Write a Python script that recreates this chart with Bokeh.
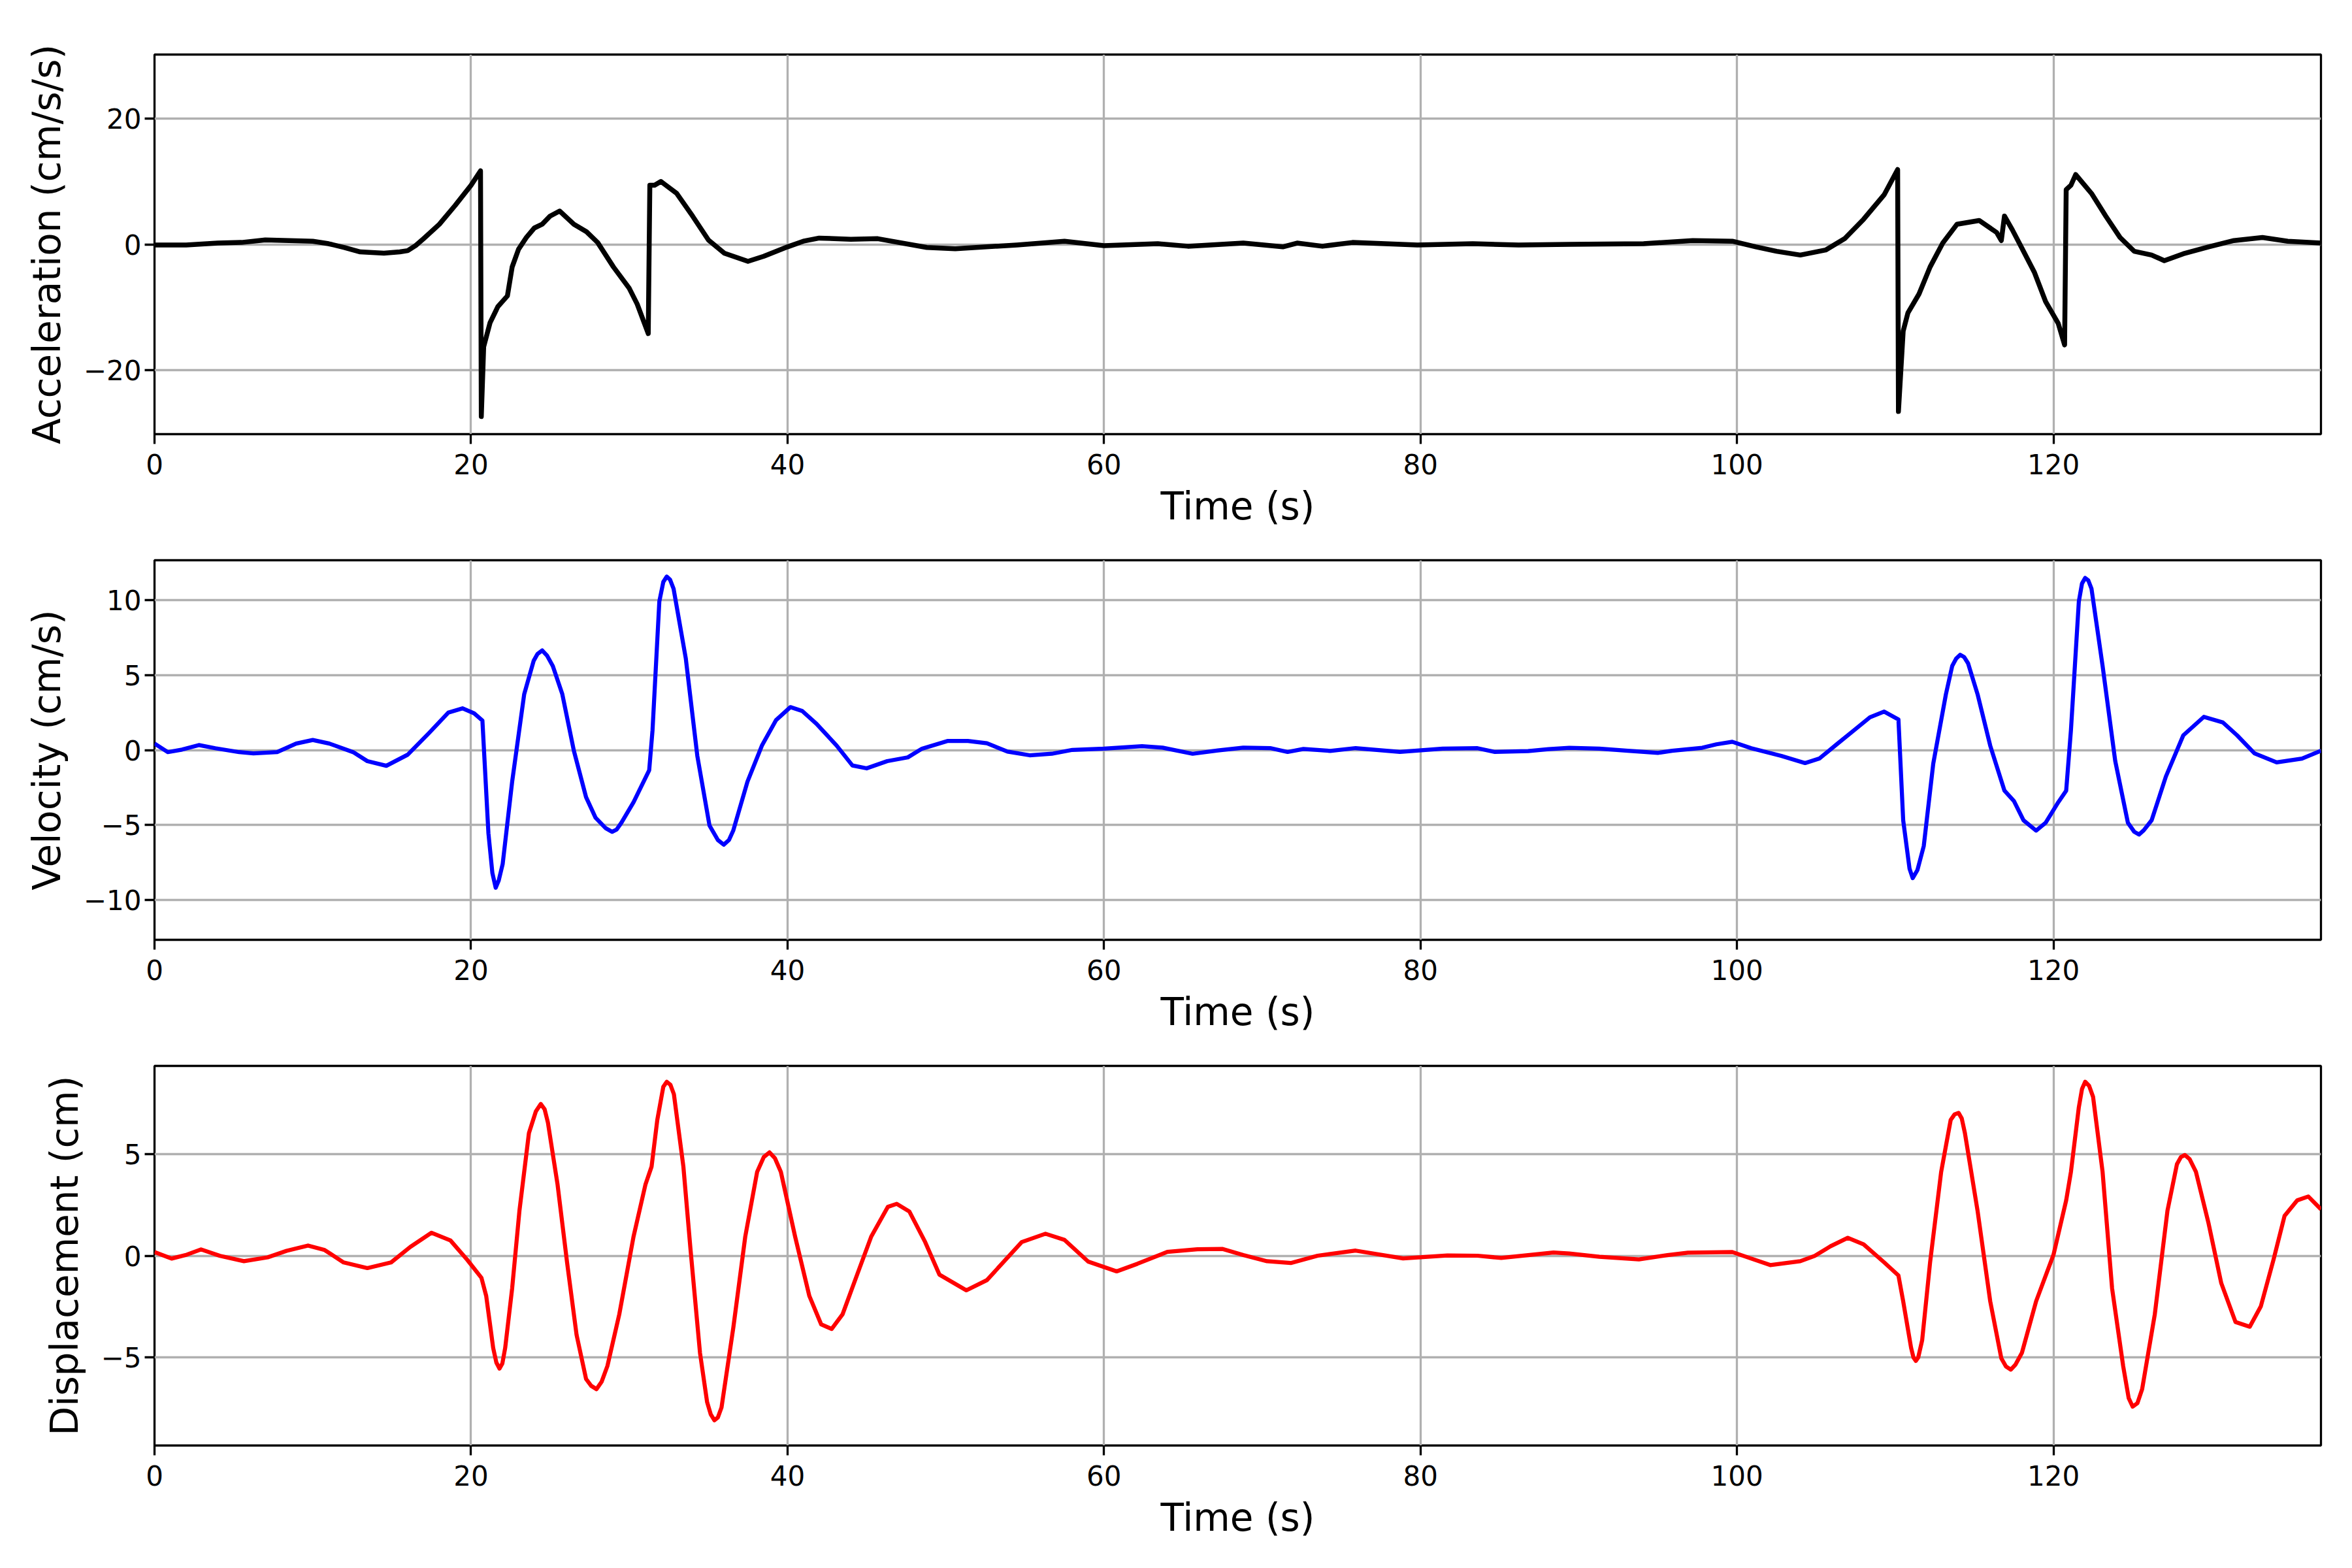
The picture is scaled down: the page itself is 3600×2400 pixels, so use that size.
from bokeh.plotting import figure
from bokeh.models import Range1d, FixedTicker
from bokeh.layouts import column
from bokeh.embed import file_html
from bokeh.resources import INLINE

# Acceleration record
acc_t = [0, 2, 4, 5.5, 7, 8.5, 10, 11, 12, 13, 14.5, 15.5, 16, 16.5, 17, 18, 19, 20,
         20.6, 20.65, 20.8, 21.2, 21.7, 22.3, 22.6, 23, 23.5, 24, 24.5, 25, 25.6, 26.5,
         27.3, 28, 29, 30, 30.5, 31.2, 31.3, 31.6, 32, 33, 34, 35, 36, 37.5, 38.5, 40,
         41, 42, 44, 45.7, 48.8, 50.6, 54.5, 57.5, 60, 63.4, 65.3, 68.8, 71.3, 72.2,
         73.8, 75.7, 79.8, 83.3, 86.2, 89.4, 94.1, 97.2, 99.7, 101.2, 102.5, 104.0,
         105.6, 106.8, 108.0, 109.3, 110.15, 110.2, 110.5, 110.8, 111.5, 112.2, 113.0,
         113.9, 115.3, 116.4, 116.7, 116.9, 117.4, 118.0, 118.8, 119.5, 120.3, 120.7,
         120.8, 121.1, 121.4, 122.4, 123.3, 124.2, 125.1, 126.2, 127.0, 128.2, 129.8,
         131.4, 133.2, 134.8, 136.9]
acc = [-0.1, -0.1, 0.2, 0.3, 0.7, 0.6, 0.5, 0.1, -0.5, -1.2, -1.4, -1.2, -1.0, -0.2,
       0.9, 3.2, 6.2, 9.4, 11.7, -27.4, -16.3, -12.5, -9.9, -8.2, -3.6, -0.8, 1.1, 2.6,
       3.2, 4.5, 5.3, 3.2, 2.0, 0.3, -3.6, -7.0, -9.5, -14.2, 9.4, 9.4, 10.0, 8.1, 4.5,
       0.7, -1.4, -2.7, -1.9, -0.4, 0.5, 1.0, 0.8, 0.9, -0.5, -0.7, -0.1, 0.5, -0.2, 0.1,
       -0.3, 0.2, -0.4, 0.2, -0.3, 0.3, -0.1, 0.1, -0.1, 0.0, 0.1, 0.6, 0.5, -0.4, -1.1,
       -1.7, -0.9, 0.9, 4.0, 7.9, 11.9, -26.6, -13.8, -10.9, -7.9, -3.6, 0.2, 3.2, 3.8,
       1.9, 0.6, 4.5, 2.3, -0.6, -4.5, -9.1, -12.6, -16.0, 8.7, 9.4, 11.1, 8.1, 4.5, 1.1,
       -1.1, -1.7, -2.6, -1.5, -0.4, 0.6, 1.1, 0.5, 0.2]

# Velocity
vel_t = [0, 0.84, 1.74, 2.8, 3.84, 5.35, 6.25, 7.75, 8.95, 10.0, 11.05, 12.55, 13.45,
         14.65, 16.0, 17.36, 18.56, 19.46, 20.2, 20.72, 21.1, 21.35, 21.56, 21.75, 22.0,
         22.6, 23.36, 23.96, 24.2, 24.5, 24.8, 25.17, 25.77, 26.5, 27.27, 27.87, 28.5,
         28.92, 29.2, 29.5, 30.27, 31.26, 31.47, 31.9, 32.15, 32.37, 32.58, 32.8, 33.57,
         34.3, 35.07, 35.6, 35.97, 36.3, 36.57, 37.47, 38.38, 39.28, 40.18, 40.93, 41.83,
         43.1, 44.1, 45.0, 46.3, 47.6, 48.5, 50.1, 51.4, 52.6, 53.9, 55.3, 56.7, 58.0,
         60.0, 62.4, 63.7, 65.6, 67.2, 68.8, 70.5, 71.6, 72.6, 74.3, 75.9, 78.7, 81.4,
         83.6, 84.7, 86.8, 88.1, 89.4, 91.3, 93.1, 95.0, 95.9, 97.8, 98.7, 99.7, 100.9,
         102.8, 104.3, 105.2, 106.3, 107.4, 108.4, 109.3, 110.2, 110.5, 110.9, 111.1,
         111.4, 111.8, 112.4, 113.2, 113.6, 113.85, 114.1, 114.35, 114.6, 115.2, 116.0,
         116.9, 117.5, 118.1, 118.9, 119.5, 120.3, 120.8, 121.1, 121.6, 121.8, 122.0,
         122.2, 122.4, 123.1, 123.9, 124.7, 125.1, 125.4, 125.7, 126.2, 127.1, 128.2,
         129.5, 130.7, 131.6, 132.7, 134.1, 135.7, 136.9]
vel = [0.43, -0.14, 0.03, 0.33, 0.12, -0.14, -0.22, -0.14, 0.43, 0.67, 0.43, -0.14,
       -0.74, -1.05, -0.31, 1.15, 2.49, 2.78, 2.44, 1.97, -5.54, -8.2, -9.18, -8.7, -7.6,
       -2.11, 3.72, 5.95, 6.4, 6.64, 6.3, 5.6, 3.72, -0.05, -3.14, -4.51, -5.2, -5.45,
       -5.3, -4.85, -3.48, -1.34, 1.32, 9.9, 11.2, 11.56, 11.35, 10.75, 6.12, -0.39,
       -5.03, -6.0, -6.31, -6.0, -5.37, -2.11, 0.29, 2.0, 2.86, 2.6, 1.75, 0.3, -1.03,
       -1.22, -0.74, -0.49, 0.09, 0.6, 0.6, 0.45, -0.1, -0.35, -0.25, 0.01, 0.09, 0.26,
       0.16, -0.25, -0.03, 0.16, 0.13, -0.13, 0.07, -0.06, 0.13, -0.13, 0.09, 0.12, -0.13,
       -0.07, 0.06, 0.15, 0.09, -0.05, -0.19, -0.05, 0.15, 0.38, 0.55, 0.12, -0.39, -0.87,
       -0.57, 0.38, 1.32, 2.18, 2.56, 2.04, -4.68, -7.9, -8.54, -8.0, -6.4, -0.91, 3.72,
       5.61, 6.1, 6.35, 6.2, 5.78, 3.72, 0.29, -2.71, -3.4, -4.68, -5.37, -4.85, -3.48,
       -2.71, 1.32, 9.9, 11.1, 11.47, 11.3, 10.75, 5.61, -0.74, -4.85, -5.45, -5.63,
       -5.35, -4.68, -1.77, 0.98, 2.21, 1.84, 0.98, -0.22, -0.82, -0.57, -0.05]

# Displacement
disp_t = [0, 1.08, 2.04, 2.94, 4.14, 5.65, 7.15, 8.35, 9.7, 10.75, 11.95, 13.45, 14.95,
          16.16, 17.5, 18.7, 19.76, 20.66, 20.96, 21.4, 21.6, 21.8, 21.98, 22.16, 22.6,
          23.06, 23.66, 24.1, 24.41, 24.65, 24.86, 25.47, 26.07, 26.67, 27.27, 27.6,
          27.93, 28.25, 28.62, 29.37, 30.27, 31.02, 31.41, 31.77, 32.15, 32.37, 32.6,
          32.82, 33.42, 33.87, 34.47, 34.92, 35.15, 35.38, 35.6, 35.83, 36.58, 37.33,
          38.08, 38.5, 38.86, 39.2, 39.58, 40.48, 41.38, 42.13, 42.79, 43.48, 44.38,
          45.29, 46.34, 46.9, 47.7, 48.7, 49.6, 51.3, 52.6, 54.8, 56.3, 57.5, 59.0, 60.8,
          62.1, 64.0, 65.9, 67.5, 68.8, 70.3, 71.8, 73.5, 75.9, 78.9, 81.7, 83.6, 85.1,
          88.4, 89.4, 91.3, 93.8, 95.6, 96.9, 99.7, 100.9, 102.1, 104.0, 104.9, 105.9,
          107.0, 108.0, 109.3, 110.2, 110.5, 111.0, 111.15, 111.3, 111.45, 111.7, 112.2,
          112.9, 113.5, 113.75, 114.0, 114.2, 114.4, 115.2, 116.0, 116.7, 117.0, 117.3,
          117.6, 118.0, 118.9, 120.0, 120.8, 121.1, 121.6, 121.8, 122.0, 122.25, 122.5,
          123.1, 123.7, 124.4, 124.75, 125.0, 125.3, 125.6, 126.4, 127.2, 127.8, 128.05,
          128.3, 128.6, 129.0, 129.8, 130.6, 131.5, 132.4, 133.1, 133.9, 134.6, 135.4,
          136.1, 136.9]
disp = [0.18, -0.14, 0.05, 0.31, -0.01, -0.27, -0.08, 0.24, 0.5, 0.28, -0.33, -0.61,
        -0.33, 0.43, 1.13, 0.75, -0.2, -1.09, -1.98, -4.53, -5.25, -5.55, -5.3, -4.53,
        -1.6, 2.21, 6.03, 7.1, 7.46, 7.2, 6.54, 3.49, -0.33, -3.89, -6.06, -6.4, -6.56,
        -6.2, -5.42, -2.88, 0.94, 3.49, 4.38, 6.67, 8.3, 8.55, 8.4, 7.94, 4.38, 0.31,
        -4.78, -7.2, -7.8, -8.09, -7.95, -7.46, -3.51, 0.94, 4.12, 4.85, 5.08, 4.8, 4.12,
        0.94, -1.98, -3.38, -3.6, -2.88, -0.97, 0.94, 2.4, 2.55, 2.17, 0.67, -0.93, -1.7,
        -1.2, 0.67, 1.08, 0.78, -0.29, -0.77, -0.4, 0.19, 0.32, 0.33, 0.03, -0.27, -0.36,
        0.0, 0.25, -0.13, 0.01, 0.0, -0.11, 0.16, 0.11, -0.05, -0.18, 0.03, 0.15, 0.18,
        -0.14, -0.46, -0.27, -0.01, 0.46, 0.88, 0.56, -0.33, -0.97, -2.24, -4.53, -5.0,
        -5.17, -5.0, -4.15, -0.33, 4.12, 6.67, 6.95, 7.02, 6.75, 6.03, 2.21, -2.24, -5.04,
        -5.45, -5.6, -5.35, -4.78, -2.24, 0.05, 2.72, 4.12, 7.3, 8.2, 8.55, 8.35, 7.81,
        4.12, -1.6, -5.42, -7.0, -7.42, -7.25, -6.56, -2.88, 2.21, 4.5, 4.85, 4.95, 4.75,
        4.12, 1.58, -1.35, -3.26, -3.49, -2.49, -0.2, 1.96, 2.72, 2.91, 2.28]

x_ticks = [0, 20, 40, 60, 80, 100, 120]
acc_ticks = [-20, 0, 20]
vel_ticks = [-10, -5, 0, 5, 10]
disp_ticks = [-5, 0, 5]

FONT = "DejaVu Sans"


def make_panel(t, y, color, width, ylabel, yticks, ylim, top):
    p = figure(frame_width=3316, frame_height=581,
               min_border_left=236, min_border_right=48,
               min_border_top=top, min_border_bottom=170,
               x_range=Range1d(0, 136.9), y_range=Range1d(-ylim, ylim),
               output_backend="svg", toolbar_location=None,
               background_fill_color="white", border_fill_color="white")
    p.line(t, y, line_color=color, line_width=width, line_join="round")

    p.xaxis.ticker = FixedTicker(ticks=x_ticks, minor_ticks=[])
    p.yaxis.ticker = FixedTicker(ticks=yticks, minor_ticks=[])
    p.yaxis.major_label_overrides = {v: str(v).replace("-", "\u2212") for v in yticks}
    p.xaxis.axis_label = "Time (s)"
    p.yaxis.axis_label = ylabel

    for ax in (p.xaxis, p.yaxis):
        ax.axis_line_color = None
        ax.major_tick_in = 0
        ax.major_tick_out = 15
        ax.major_tick_line_width = 3.3
        ax.major_tick_line_color = "black"
        ax.major_label_text_font = FONT
        ax.major_label_text_font_size = "42px"
        ax.major_label_text_color = "black"
        ax.axis_label_text_font = FONT
        ax.axis_label_text_font_size = "58px"
        ax.axis_label_text_font_style = "normal"
        ax.axis_label_text_color = "black"
    p.xaxis.major_label_standoff = 15
    p.xaxis.axis_label_standoff = 12
    p.yaxis.major_label_standoff = 5
    p.yaxis.axis_label_standoff = 19

    p.grid.grid_line_color = "#b0b0b0"
    p.grid.grid_line_width = 3.3
    p.outline_line_color = "black"
    p.outline_line_width = 3.3
    return p


p1 = make_panel(acc_t, acc, "black", 7.5, "Acceleration (cm/s/s)", acc_ticks, 30.2, 83)
p2 = make_panel(vel_t, vel, "#0000ff", 6.25, "Velocity (cm/s)", vel_ticks, 12.65, 23)
p3 = make_panel(disp_t, disp, "#ff0000", 6.25, "Displacement (cm)", disp_ticks, 9.33, 23)

p = column(p1, p2, p3)

open("out.html", "w").write(file_html(p, INLINE))
